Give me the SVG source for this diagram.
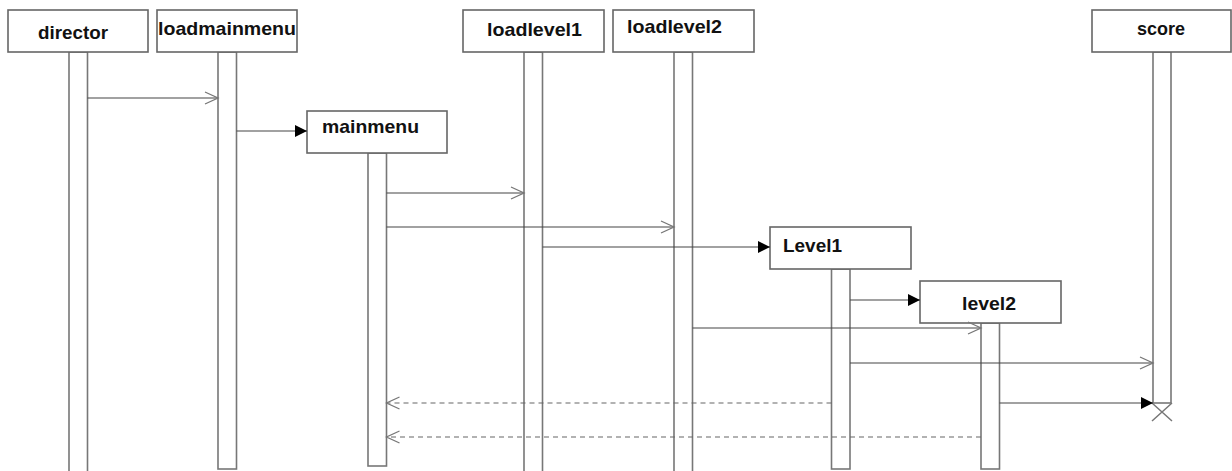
<svg xmlns="http://www.w3.org/2000/svg" width="1232" height="471" viewBox="0 0 1232 471">
<defs>
<marker id="open" markerWidth="16" markerHeight="14" refX="14" refY="7" orient="auto" markerUnits="userSpaceOnUse">
<path d="M1,1 L14,7 L1,13" fill="none" stroke="#777" stroke-width="1.3"/>
</marker>
<marker id="fill" markerWidth="14" markerHeight="14" refX="12" refY="7" orient="auto" markerUnits="userSpaceOnUse">
<path d="M0,1 L12,7 L0,13 Z" fill="#000"/>
</marker>
</defs>
<style>
.box{fill:#fff;stroke:#666;stroke-width:1.6}
.bar{fill:#fff;stroke:#777;stroke-width:1.6}
.lbl{font-family:"Liberation Sans",Arial,sans-serif;font-weight:bold;font-size:19px;fill:#111}
.msg{stroke:#444;stroke-width:1.2;fill:none}
.ret{stroke:#666;stroke-width:1.2;fill:none;stroke-dasharray:5,4}
</style>
<rect width="1232" height="471" fill="#fff"/>
<g id="director">
<rect class="bar" x="69" y="52" width="18.5" height="425"/>
<rect class="box" x="8" y="10" width="140" height="42"/>
<text class="lbl" x="38" y="39" textLength="70" lengthAdjust="spacingAndGlyphs">director</text>
</g>
<g id="loadmainmenu">
<rect class="bar" x="218" y="52" width="18.5" height="417"/>
<rect class="box" x="157" y="10" width="140" height="42"/>
<text class="lbl" x="158" y="35" textLength="138" lengthAdjust="spacingAndGlyphs">loadmainmenu</text>
</g>
<g id="mainmenu">
<rect class="bar" x="368" y="153" width="18.5" height="313"/>
<rect class="box" x="307" y="111" width="140" height="42"/>
<text class="lbl" x="322" y="133" textLength="97" lengthAdjust="spacingAndGlyphs">mainmenu</text>
</g>
<g id="loadlevel1">
<rect class="bar" x="524" y="52" width="18.5" height="425"/>
<rect class="box" x="463" y="10" width="141" height="42"/>
<text class="lbl" x="487" y="36" textLength="95" lengthAdjust="spacingAndGlyphs">loadlevel1</text>
</g>
<g id="loadlevel2">
<rect class="bar" x="674" y="52" width="18.5" height="425"/>
<rect class="box" x="613" y="10" width="141" height="42"/>
<text class="lbl" x="627" y="33" textLength="95" lengthAdjust="spacingAndGlyphs">loadlevel2</text>
</g>
<g id="score">
<rect class="bar" x="1153" y="52" width="18" height="351"/>
<rect class="box" x="1092" y="10" width="139" height="42"/>
<text class="lbl" x="1137" y="35" textLength="48" lengthAdjust="spacingAndGlyphs">score</text>
<path d="M1152,403 L1172,421 M1172,403 L1152,421" stroke="#777" stroke-width="1.5"/>
</g>
<g id="Level1">
<rect class="bar" x="831.5" y="269" width="18.5" height="200"/>
<rect class="box" x="770" y="227" width="141" height="42"/>
<text class="lbl" x="783" y="252" textLength="59" lengthAdjust="spacingAndGlyphs">Level1</text>
</g>
<g id="level2">
<rect class="bar" x="981" y="323" width="18.5" height="146"/>
<rect class="box" x="920" y="281" width="141" height="42"/>
<text class="lbl" x="962" y="310" textLength="54" lengthAdjust="spacingAndGlyphs">level2</text>
</g>
<g id="connectors">
<line class="msg" x1="87.5" y1="98" x2="218" y2="98" marker-end="url(#open)"/>
<line class="msg" x1="236.5" y1="131" x2="307" y2="131" marker-end="url(#fill)"/>
<line class="msg" x1="386.5" y1="193" x2="524" y2="193" marker-end="url(#open)"/>
<line class="msg" x1="386.5" y1="227" x2="674" y2="227" marker-end="url(#open)"/>
<line class="msg" x1="542.5" y1="247" x2="770" y2="247" marker-end="url(#fill)"/>
<line class="msg" x1="850" y1="300" x2="920" y2="300" marker-end="url(#fill)"/>
<line class="msg" x1="692.5" y1="328" x2="981" y2="328" marker-end="url(#open)"/>
<line class="msg" x1="850" y1="363" x2="1153" y2="363" marker-end="url(#open)"/>
<line class="msg" x1="999.5" y1="403" x2="1153" y2="403" marker-end="url(#fill)"/>
<line class="ret" x1="831.5" y1="403" x2="386.5" y2="403" marker-end="url(#open)"/>
<line class="ret" x1="981" y1="437" x2="386.5" y2="437" marker-end="url(#open)"/>
</g>
</svg>
